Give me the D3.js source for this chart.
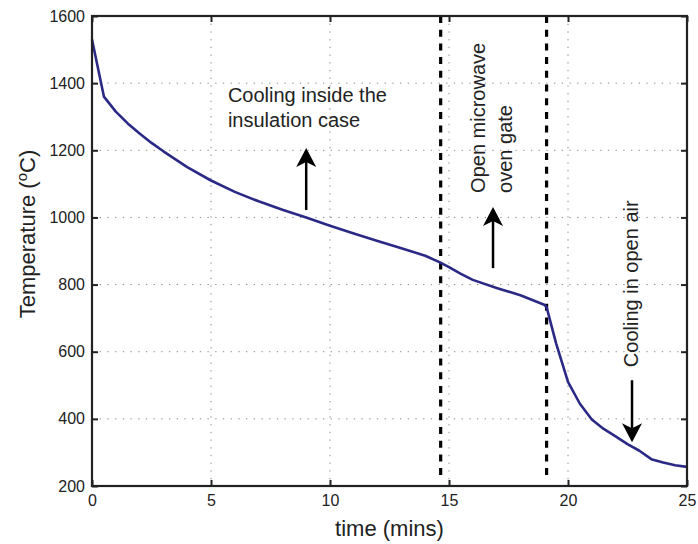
<!DOCTYPE html>
<html>
<head>
<meta charset="utf-8">
<script src="https://cdn.jsdelivr.net/npm/d3@7"></script>
<style>
  body { margin: 0; background: #fff; }
  svg { display: block; font-family: "Liberation Sans", Arial, sans-serif; }
</style>
</head>
<body>
<svg id="chart" width="698" height="544"></svg>
<script>
// measured temperature (deg C) against time (mins)
const times = [0, 0.5, 1, 1.5, 2, 2.5, 3, 4, 5, 6, 7, 8, 9, 10, 11, 12, 13, 14, 14.6,
               15, 15.5, 16, 17, 18, 19, 19.1, 19.5, 20, 20.5, 21, 21.5, 22, 22.5, 23, 23.5, 24, 24.5, 25];
const temps = [1530, 1360, 1315, 1280, 1250, 1222, 1197, 1150, 1110, 1076, 1048, 1023, 1000, 975, 952, 930, 908, 886, 867,
               852, 832, 814, 790, 768, 740, 733, 625, 510, 445, 398, 370, 348, 325, 305, 280, 270, 262, 257];

const xTicks = [0, 5, 10, 15, 20, 25];
const yTicks = [200, 400, 600, 800, 1000, 1200, 1400, 1600];

// phase boundaries (dashed)
const phaseTimes = [14.65, 19.1];

// annotation texts
const noteTimes = [5.71, 16.51, 22.94];
const noteTemps = [1344, 1073, 554];
const noteRotated = [false, true, true];
const noteLines = [["Cooling inside the", "insulation case"], ["Open microwave", "oven gate"], ["Cooling in open air"]];

// arrows: at time, from temp to temp
const arrowTimes = [9, 16.85, 22.69];
const arrowFrom = [1022, 849, 515];
const arrowTo = [1207, 1031, 330];

const W = 698, H = 544;
const margin = { top: 16, right: 11, bottom: 58, left: 92 };
const iw = W - margin.left - margin.right;
const ih = H - margin.top - margin.bottom;

const svg = d3.select("#chart");
const g = svg.append("g").attr("transform", `translate(${margin.left},${margin.top})`);

const x = d3.scaleLinear().domain([0, 25]).range([0, iw]);
const y = d3.scaleLinear().domain([200, 1600]).range([ih, 0]);

const ink = "#222";

// dotted grid
g.append("g").selectAll("line")
    .data(xTicks.slice(1, -1))
    .join("line")
    .attr("x1", d => x(d)).attr("x2", d => x(d))
    .attr("y1", 0).attr("y2", ih)
    .attr("stroke", "#888").attr("stroke-width", 1)
    .attr("stroke-dasharray", "1.3,6.4");
g.append("g").selectAll("line")
    .data(yTicks.slice(1, -1))
    .join("line")
    .attr("x1", 0).attr("x2", iw)
    .attr("y1", d => y(d)).attr("y2", d => y(d))
    .attr("stroke", "#888").attr("stroke-width", 1)
    .attr("stroke-dasharray", "1.3,6.4");

// axes, ticks point inwards
function styleAxis(sel) {
    sel.select(".domain").remove();
    sel.selectAll(".tick line").attr("stroke", ink).attr("stroke-width", 2);
    sel.selectAll(".tick text").attr("fill", ink).attr("font-size", 16)
        .attr("font-family", "'Liberation Sans', Arial, sans-serif");
}
g.append("g").attr("transform", `translate(0,${ih})`)
    .call(d3.axisBottom(x).tickValues(xTicks).tickSize(-6).tickPadding(9).tickFormat(d3.format("d")))
    .call(styleAxis);
g.append("g")
    .call(d3.axisTop(x).tickValues(xTicks).tickSize(-6).tickFormat(""))
    .call(styleAxis);
g.append("g")
    .call(d3.axisLeft(y).tickValues(yTicks).tickSize(-6).tickPadding(7).tickFormat(d3.format("d")))
    .call(styleAxis);
g.append("g").attr("transform", `translate(${iw},0)`)
    .call(d3.axisRight(y).tickValues(yTicks).tickSize(-6).tickFormat(""))
    .call(styleAxis);

// dashed phase lines
g.append("g").selectAll("line")
    .data(phaseTimes)
    .join("line")
    .attr("x1", d => x(d)).attr("x2", d => x(d))
    .attr("y1", y(1600)).attr("y2", y(225))
    .attr("stroke", "#000").attr("stroke-width", 3.2)
    .attr("stroke-dasharray", "7,6.7");

// temperature curve
const line = d3.line().x(d => x(d[0])).y(d => y(d[1]));
g.append("path")
    .datum(d3.zip(times, temps))
    .attr("d", line)
    .attr("fill", "none")
    .attr("stroke", "#2a2a86")
    .attr("stroke-width", 2.6)
    .attr("stroke-linejoin", "round");

// plot box
g.append("rect")
    .attr("width", iw).attr("height", ih)
    .attr("fill", "none").attr("stroke", ink).attr("stroke-width", 2.2);

// annotations
noteLines.forEach((lines, i) => {
    const px = x(noteTimes[i]), py = y(noteTemps[i]);
    const t = g.append("text")
        .attr("font-size", 20).attr("fill", ink)
        .attr("transform", noteRotated[i] ? `translate(${px},${py}) rotate(-90)` : `translate(${px},${py})`);
    lines.forEach((s, j) => {
        t.append("tspan").attr("x", 0).attr("y", noteRotated[i] ? j * 27 : j * 25).text(s);
    });
});

arrowTimes.forEach((t, i) => {
    const ax = x(t), y0 = y(arrowFrom[i]), y1 = y(arrowTo[i]);
    const dir = y1 < y0 ? -1 : 1;
    const headLen = 19, headW = 10, notch = 5;
    g.append("line")
        .attr("x1", ax).attr("x2", ax)
        .attr("y1", y0).attr("y2", y1 - dir * (headLen - notch))
        .attr("stroke", "#000").attr("stroke-width", 2.5);
    g.append("path")
        .attr("d", `M${ax},${y1} L${ax - headW},${y1 - dir * headLen} L${ax},${y1 - dir * (headLen - notch)} L${ax + headW},${y1 - dir * headLen} Z`)
        .attr("fill", "#000");
});

// axis titles
svg.append("text")
    .attr("x", margin.left + iw / 2).attr("y", 536)
    .attr("text-anchor", "middle")
    .attr("font-size", 22).attr("fill", ink)
    .text("time (mins)");

const yl = svg.append("text")
    .attr("transform", `translate(35,${margin.top + 218}) rotate(-90)`)
    .attr("text-anchor", "middle")
    .attr("font-size", 22).attr("fill", ink);
yl.append("tspan").text("Temperature (");
yl.append("tspan").attr("font-size", 15).attr("dy", -8).text("o");
yl.append("tspan").attr("dy", 8).text("C)");
</script>
</body>
</html>
